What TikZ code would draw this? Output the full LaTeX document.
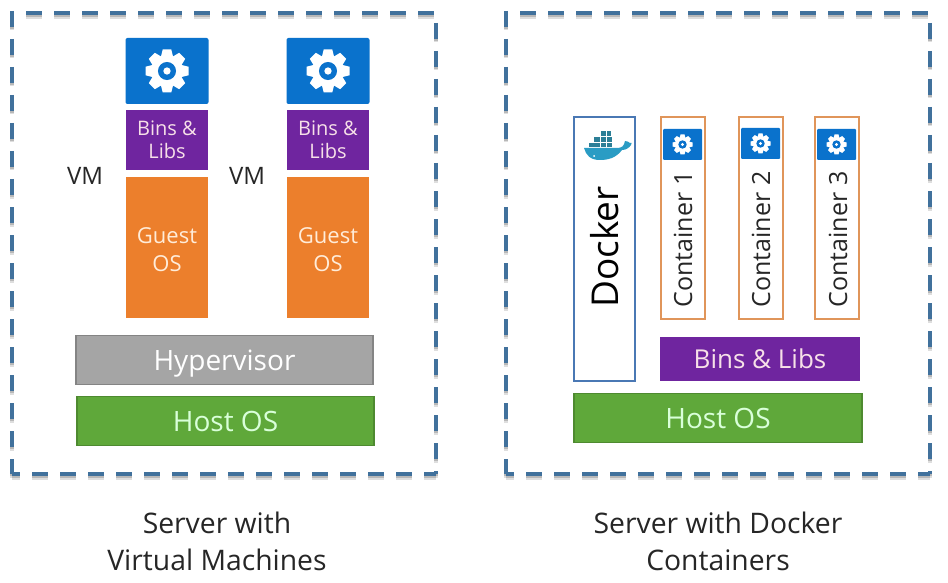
\documentclass[tikz,border=0pt]{standalone}
\usepackage{fontspec}
\setmainfont{Open Sans}
\definecolor{dashblue}{HTML}{41719C}
\definecolor{gearblue}{HTML}{0A72CC}
\definecolor{binpurple}{HTML}{6F259F}
\definecolor{osorange}{HTML}{EC7F2C}
\definecolor{hyper}{HTML}{A5A5A5}
\definecolor{hostgreen}{HTML}{5FA83A}
\definecolor{contorange}{HTML}{E0955A}
\definecolor{dockerblue}{HTML}{4A78B4}
\definecolor{whale}{HTML}{2A9CC4}
\definecolor{whaledark}{HTML}{2C7F97}
\newcommand{\frameside}[2]{%
  \draw[black!13,line width=4.4pt,dash pattern=on 16pt off 12pt,dash phase=#1,yshift=-3.5pt] #2;
  \draw[black!28,line width=3.4pt,dash pattern=on 16pt off 12pt,dash phase=#1,yshift=-2pt] #2;
  \draw[dashblue,line width=3.4pt,dash pattern=on 16pt off 12pt,dash phase=#1] #2;
}
\tikzset{
  x=1pt,y=-1pt,
  px/.style={font=\fontsize{#1}{#1}\selectfont},
  layerbox/.style={draw=none,minimum width=#1,inner sep=0pt,text=white!88!purple,align=center,anchor=center},
  contbox/.style={draw=contorange,line width=2pt,fill=white,minimum width=44pt,minimum height=202pt,inner sep=0pt},
  caption/.style={px=28.3,align=center,text=black!85},
  serverframe/.pic={
    \frameside{0pt}{(0,-2) -- (0,461)}
    \frameside{16pt}{(2,0) -- (424,0)}
    \frameside{18pt}{(424,0) -- (424,461)}
    \frameside{8pt}{(0,461) -- (424,461)}
  },
  pics/gear/.style={code={
    \fill[white] (0,0) circle[radius=0.74*#1];
    \foreach \a in {0,45,...,315}{
      \fill[white,rotate=\a] (-0.2*#1,-#1) -- (0.2*#1,-#1) -- (0.3*#1,-0.6*#1) -- (-0.3*#1,-0.6*#1) -- cycle;
    }
    \fill[gearblue] (0,0) circle[radius=0.42*#1];
    \fill[white] (0,0) circle[radius=0.17*#1];
  }}
}
\begin{document}
\begin{tikzpicture}
\useasboundingbox (0,0) rectangle (948,583);
\fill[white] (0,0) rectangle (948,583);
% frames
\pic at (12,13) {serverframe};
\pic at (506,13) {serverframe};
% left VMs
\node[fill=gearblue,rounded corners=2pt,minimum width=83pt,minimum height=66pt,inner sep=0pt] (app1) at (167,71) {};
\pic at (app1.center) {gear=21.5};
\node[layerbox=82pt,fill=binpurple,minimum height=60pt,px=20] (bins1) at (167,140) {Bins \&\\[3.5pt]Libs};
\node[layerbox=82pt,fill=osorange,minimum height=141pt,px=22,text=white!85!orange] (os1) at (167,247.5) {\rule{0pt}{20pt}Guest\\[6.5pt]OS};
\node[fill=gearblue,rounded corners=2pt,minimum width=83pt,minimum height=66pt,inner sep=0pt] (app2) at (328,71) {};
\pic at (app2.center) {gear=21.5};
\node[layerbox=82pt,fill=binpurple,minimum height=60pt,px=20] (bins2) at (328,140) {Bins \&\\[3.5pt]Libs};
\node[layerbox=82pt,fill=osorange,minimum height=141pt,px=22,text=white!85!orange] (os2) at (328,247.5) {\rule{0pt}{20pt}Guest\\[6.5pt]OS};
\node[px=24,text=black!85] (vm1) at (85,176) {VM};
\node[px=24,text=black!85] (vm2) at (247,176) {VM};
\node[layerbox=297pt,fill=hyper,draw=hyper!80!black,line width=1.2pt,minimum height=49pt,px=28,text=white,text depth=0pt] (hv) at (224.5,360) {Hypervisor};
\node[layerbox=297pt,fill=hostgreen,draw=hostgreen!82!black,line width=1.2pt,minimum height=49pt,px=28,text=white!85!green] (host1) at (225.5,421) {Host OS};
% right side
\node[draw=dockerblue,line width=1.6pt,fill=white,minimum width=61pt,minimum height=264pt,inner sep=0pt] (docker) at (604.5,249) {};
\node[rotate=90,px=37] (dockerlabel) at (605,247) {Docker};
% whale
\begin{scope}
 \fill[whaledark] (594,137) rectangle (600,142.5);
 \fill[whaledark] (600.5,137) rectangle (606,142.5);
 \fill[whaledark] (606.5,137) rectangle (612,142.5);
 \fill[whaledark] (600.5,131) rectangle (606,136.5);
 \fill[whaledark] (606.5,131) rectangle (611,136.5);
 \fill[whaledark] (589,143) rectangle (594.5,147);
 \fill[whaledark] (595,143) rectangle (600,147);
 \fill[whaledark] (600.5,143) rectangle (606,147);
 \fill[whaledark] (606.5,143) rectangle (612,147);
 \fill[whale] (584,148) -- (617,148) .. controls (622,148) and (624,146) .. (625,141)
   .. controls (627,141) and (629,142) .. (630,143) .. controls (632,142) and (632,143) .. (631,145)
   .. controls (629,148) and (626,150) .. (622,150) .. controls (616,158) and (608,160) .. (600,160)
   .. controls (590,160) and (586,155) .. (584,148) -- cycle;
 \fill[white] (594,156) circle[radius=1];
\end{scope}
% containers
\node[contbox] (c1) at (683,218) {};
\node[contbox] (c2) at (760.5,218) {};
\node[contbox] (c3) at (837,218) {};
\node[fill=gearblue,rounded corners=1pt,minimum width=39pt,minimum height=31pt,inner sep=0pt] (g1) at (682.5,144.5) {};
\pic at (g1.center) {gear=10};
\node[fill=gearblue,rounded corners=1pt,minimum width=39pt,minimum height=31pt,inner sep=0pt] (g2) at (760.5,143.5) {};
\pic at (g2.center) {gear=10};
\node[fill=gearblue,rounded corners=1pt,minimum width=39pt,minimum height=31pt,inner sep=0pt] (g3) at (836.5,144.5) {};
\pic at (g3.center) {gear=10};
\node[rotate=90,px=25,text=black!85] (t1) at (683,239.5) {Container 1};
\node[rotate=90,px=25,text=black!85] (t2) at (761,239.5) {Container 2};
\node[rotate=90,px=25,text=black!85] (t3) at (838,239.5) {Container 3};
\node[layerbox=200pt,fill=binpurple,minimum height=44pt,px=26] (bins3) at (760,359) {Bins \& Libs};
\node[layerbox=288pt,fill=hostgreen,draw=hostgreen!82!black,line width=1.2pt,minimum height=49pt,px=28,text=white!85!green] (host2) at (718,418) {Host OS};
% captions
\node[caption] (cap1) at (217,541.5) {Server with\\[8pt]Virtual Machines};
\node[caption] (cap2) at (718,541.5) {Server with Docker\\[8pt]Containers};
\end{tikzpicture}
\end{document}
